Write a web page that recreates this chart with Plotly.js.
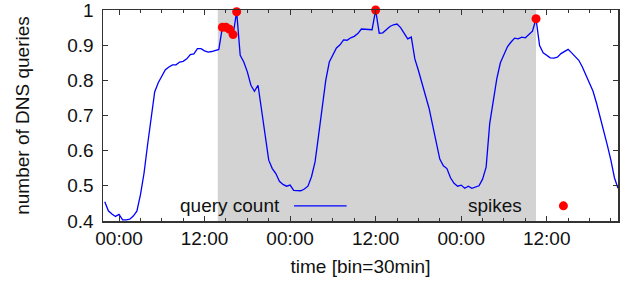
<!DOCTYPE html>
<html>
<head>
<meta charset="utf-8">
<script src="https://cdn.plot.ly/plotly-3.0.1.min.js"></script>
<style>html,body{margin:0;padding:0;background:#fff;}#chart{width:640px;height:289px;}</style>
</head>
<body>
<div id="chart"></div>
<script>
// time axis: 30-min bins, hours relative to first midnight
var startHour = -2;
var binHours = 0.5;
var queryCount = [
  0.455,0.429,0.420,0.413,0.419,0.403,0.403,0.405,0.414,0.428,
  0.474,0.535,0.616,0.696,0.767,0.793,0.811,0.830,0.838,0.844,
  0.844,0.852,0.854,0.861,0.873,0.875,0.890,0.890,0.884,0.880,
  0.882,0.885,0.888,0.951,0.951,0.945,0.930,0.995,0.871,0.852,
  0.824,0.786,0.769,0.786,0.710,0.635,0.573,0.549,0.535,0.513,
  0.504,0.499,0.502,0.487,0.486,0.486,0.491,0.499,0.526,0.568,
  0.644,0.720,0.800,0.852,0.871,0.892,0.901,0.915,0.914,0.921,
  0.925,0.933,0.946,0.946,0.945,0.944,1.000,0.934,0.935,0.945,
  0.953,0.958,0.960,0.950,0.932,0.918,0.923,0.861,0.828,0.790,
  0.756,0.720,0.672,0.620,0.576,0.557,0.549,0.523,0.507,0.499,
  0.502,0.493,0.499,0.493,0.496,0.500,0.519,0.553,0.677,0.741,
  0.805,0.850,0.871,0.896,0.909,0.920,0.918,0.923,0.921,0.932,
  0.940,0.975,0.899,0.878,0.870,0.864,0.863,0.866,0.876,0.883,
  0.888,0.878,0.866,0.857,0.838,0.814,0.795,0.769,0.734,0.696,
  0.655,0.616,0.573,0.523,0.493
];
var spikeHours = [14.5, 15, 15.5, 16, 16.5, 36, 58.5];
var spikeValues = [0.951, 0.951, 0.945, 0.930, 0.995, 1.000, 0.975];
var shadedSpan = [13.85, 58.5];
var tickHours = [0, 12, 24, 36, 48, 60];
var tickLabels = ['00:00', '12:00', '00:00', '12:00', '00:00', '12:00'];
var yTicks = [0.4, 0.5, 0.6, 0.7, 0.8, 0.9, 1];
var yTickLabels = ['0.4', '0.5', '0.6', '0.7', '0.8', '0.9', '1'];

var hours = [];
for (var i = 0; i < queryCount.length; i++) hours.push(startHour + binHours * i);

var FONT = 'Liberation Sans, Arial, sans-serif';
var traces = [
  {x: hours, y: queryCount, type: 'scatter', mode: 'lines', name: 'query count',
   line: {color: '#0000ff', width: 1.3}, hoverinfo: 'x+y'},
  {x: spikeHours, y: spikeValues, type: 'scatter', mode: 'markers', name: 'spikes',
   marker: {color: '#ff0000', size: 9}, cliponaxis: false}
];

var axisCommon = {
  showline: true, linecolor: '#333', linewidth: 1.5, mirror: 'allticks',
  ticks: 'inside', tickcolor: '#333', tickwidth: 1, showgrid: false, zeroline: false,
  tickfont: {family: FONT, size: 19, color: '#111'}, ticklabeloverflow: 'allow'
};

var layout = {
  width: 640, height: 289,
  margin: {l: 103.3, r: 22, t: 9.5, b: 68, pad: 0},
  paper_bgcolor: '#fff', plot_bgcolor: '#fff',
  showlegend: false,
  font: {family: FONT, size: 19, color: '#111'},
  xaxis: Object.assign({}, axisCommon, {
    range: [-2.25, 70.0], tickmode: 'array', tickvals: tickHours, ticktext: tickLabels,
    ticklen: 5,
    minor: {tickmode: 'linear', tick0: 0, dtick: 3, ticks: 'inside', ticklen: 3, tickcolor: '#333', tickwidth: 1, showgrid: false},
    title: {text: 'time [bin=30min]', font: {family: FONT, size: 19, color: '#111'}, standoff: 11}
  }),
  yaxis: Object.assign({}, axisCommon, {
    range: [0.4, 1.0], tickmode: 'array', tickvals: yTicks, ticktext: yTickLabels,
    ticklen: 5, ticklabelstandoff: 4,
    title: {text: 'number of DNS queries', font: {family: FONT, size: 19, color: '#111'}, standoff: 32}
  }),
  shapes: [
    {type: 'rect', xref: 'x', yref: 'paper', x0: shadedSpan[0], x1: shadedSpan[1], y0: 0, y1: 1,
     fillcolor: '#d3d3d3', line: {width: 0}, layer: 'below'},
    {type: 'line', xref: 'paper', yref: 'paper', x0: 0.371, x1: 0.473, y0: 0.072, y1: 0.072,
     line: {color: '#0000ff', width: 1.3}},
    {type: 'circle', xref: 'paper', yref: 'paper', xsizemode: 'pixel', ysizemode: 'pixel',
     xanchor: 0.894, yanchor: 0.072, x0: -4.5, x1: 4.5, y0: -4.5, y1: 4.5,
     fillcolor: '#ff0000', line: {width: 0}}
  ],
  annotations: [
    {text: 'query count', xref: 'paper', yref: 'paper', x: 0.347, y: 0.072, xanchor: 'right', yanchor: 'middle',
     showarrow: false, font: {family: FONT, size: 19, color: '#111'}},
    {text: 'spikes', xref: 'paper', yref: 'paper', x: 0.818, y: 0.072, xanchor: 'right', yanchor: 'middle',
     showarrow: false, font: {family: FONT, size: 19, color: '#111'}}
  ]
};

Plotly.newPlot('chart', traces, layout, {staticPlot: true, displayModeBar: false});
</script>
</body>
</html>
